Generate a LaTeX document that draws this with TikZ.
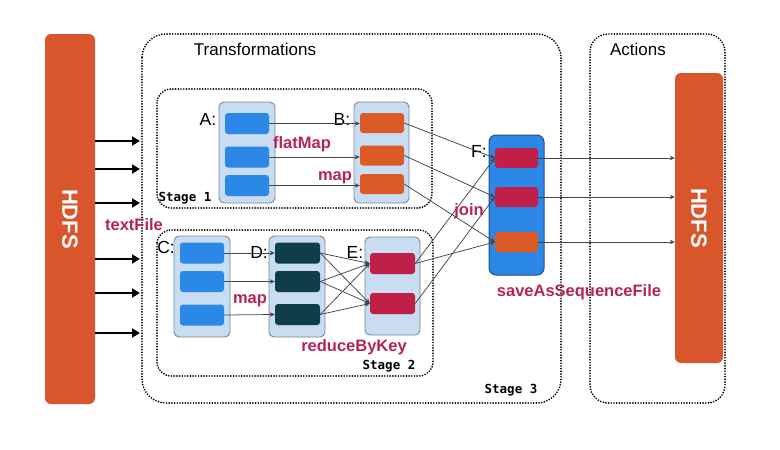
\documentclass[tikz,border=0pt]{standalone}
\usepackage{fontspec}
\setmainfont{Liberation Sans}
\newfontfamily\stagefont{DejaVu Sans Mono}
\usetikzlibrary{arrows.meta}
\definecolor{hdfscol}{HTML}{D9552C}
\definecolor{contfill}{HTML}{C8DCF2}
\definecolor{contdraw}{HTML}{7D8896}
\definecolor{blueitem}{HTML}{2C88E6}
\definecolor{orangeitem}{HTML}{DB5A25}
\definecolor{tealitem}{HTML}{0F3E48}
\definecolor{redditem}{HTML}{C01F48}
\definecolor{fdraw}{HTML}{24508A}
\definecolor{labcol}{HTML}{B5235A}
\definecolor{conncol}{HTML}{454545}
\begin{document}
\begin{tikzpicture}[x=1pt,y=-1pt,
  dotbox/.style={line width=1.9pt, dash pattern=on 0pt off 2.7pt, line cap=round, draw=black},
  hdfsbar/.style={fill=hdfscol, rounded corners=6pt, inner sep=0pt},
  hdfstext/.style={text=white, font=\fontsize{22}{24}\selectfont\bfseries, rotate=-90},
  container/.style={draw=contdraw, fill=contfill, line width=0.9pt, rounded corners=5pt, inner sep=0pt, minimum width=56pt, minimum height=101pt},
  item/.style={rounded corners=3pt, inner sep=0pt, minimum width=44pt, minimum height=21pt},
  conn/.style={draw=conncol, line width=0.75pt, -{Stealth[length=5pt,width=4.5pt]}},
  thick arrow/.style={line width=2.8pt, -{Triangle[length=8pt,width=9pt]}},
  lab/.style={text=labcol, font=\fontsize{16.5}{18}\selectfont\bfseries, anchor=base, inner sep=0pt},
  letter/.style={font=\fontsize{17.5}{19}\selectfont, inner sep=0pt},
  title/.style={font=\fontsize{17}{19}\selectfont, inner sep=0pt},
  stagelab/.style={font=\fontsize{12.5}{14}\selectfont\stagefont\bfseries, anchor=base, inner sep=0pt}
]
\useasboundingbox[fill=white] (0,0) rectangle (780,450);

% dotted boxes
\draw[dotbox, rounded corners=24pt] (142,34) rectangle (561,403);
\draw[dotbox, rounded corners=14pt] (157,89) rectangle (432,208);
\draw[dotbox, rounded corners=14pt] (157,230) rectangle (433,376);
\draw[dotbox, rounded corners=18pt] (590,34) rectangle (725,403);

\node[title] (ttrans) at (255,49.5) {Transformations};
\node[title] (tact) at (638,49.5) {Actions};

% HDFS bars
\node[hdfsbar, minimum width=50pt, minimum height=370pt] (hl) at (70,219) {};
\node[hdfstext] at (hl.center) {HDFS};
\node[hdfsbar, minimum width=48pt, minimum height=290pt] (hr) at (699,218) {};
\node[hdfstext] at (hr.center) {HDFS};

% input arrows
\foreach \i/\y in {1/141,2/169,3/203,4/259,5/293,6/333}{
  \coordinate (t\i) at (140,\y);
  \draw[thick arrow] (hl.east |- t\i) -- (t\i);
}

% letter labels
\node[letter] (la) at (208,119) {A:};
\node[letter] (lb) at (342,119) {B:};
\node[letter] (lc) at (166,247) {C:};
\node[letter] (ld) at (259,252) {D:};
\node[letter] (le) at (355,252) {E:};
\node[letter] (lf) at (479,151) {F:};

% containers
\node[container] (ca) at (247,152.5) {};
\node[container, minimum width=55pt] (cb) at (381.5,152.5) {};
\node[container] (cc) at (202,286.5) {};
\node[container] (cd) at (297,286.5) {};
\node[container, minimum width=55pt, minimum height=98pt] (ce) at (392.5,286) {};
\node[container, draw=fdraw, fill=blueitem, line width=1pt, rounded corners=7pt, minimum width=55pt, minimum height=140pt] (cf) at (516.5,205) {};

% items
\node[item, fill=blueitem] (a1) at (247,123.5) {};
\node[item, fill=blueitem] (a2) at (247,157) {};
\node[item, fill=blueitem] (a3) at (247,185.5) {};
\node[item, fill=orangeitem, minimum height=20pt] (b1) at (382,123) {};
\node[item, fill=orangeitem, minimum height=20pt] (b2) at (382,155.5) {};
\node[item, fill=orangeitem, minimum height=20pt] (b3) at (382,184) {};
\node[item, fill=blueitem] (c1) at (202,253) {};
\node[item, fill=blueitem] (c2) at (202,281.5) {};
\node[item, fill=blueitem] (c3) at (202,315) {};
\node[item, fill=tealitem, minimum width=45pt] (d1) at (297.5,253) {};
\node[item, fill=tealitem, minimum width=45pt] (d2) at (297.5,281.5) {};
\node[item, fill=tealitem, minimum width=45pt] (d3) at (297.5,314.5) {};
\node[item, fill=redditem, minimum width=45pt] (e1) at (392.5,263.5) {};
\node[item, fill=redditem, minimum width=45pt] (e2) at (392.5,303.5) {};
\node[item, fill=redditem, minimum width=43pt, minimum height=20pt] (f1) at (516.5,158) {};
\node[item, fill=redditem, minimum width=43pt, minimum height=20pt] (f2) at (516.5,197) {};
\node[item, fill=orangeitem, minimum width=43pt, minimum height=20pt] (f3) at (516.5,242) {};

% connectors
\draw[conn] (a1.east) -- (b1.west |- a1.east);
\draw[conn] (a2.east) -- (b2.west |- a2.east);
\draw[conn] (a3.east) -- (b3.west |- a3.east);
\draw[conn] (c1.east) -- (d1.west);
\draw[conn] (c2.east) -- (d2.west);
\draw[conn] (c3.east) -- (d3.west);
\foreach \d in {1,2,3}{
  \foreach \e in {1,2}{
    \draw[conn] (d\d.east) -- (e\e.west);
  }
}
\draw[conn] (b1.east) -- (f1.west);
\draw[conn] (b2.east) -- (f2.west);
\draw[conn] (b3.east) -- (f3.west);
\draw[conn] (e1.east) -- (f1.west);
\draw[conn] (e1.east) -- (f3.west);
\draw[conn] (e2.east) -- (f2.west);
\draw[conn] (f1.east) -- (f1.east -| hr.west);
\draw[conn] (f2.east) -- (f2.east -| hr.west);
\draw[conn] (f3.east) -- (f3.east -| hr.west);

% operation labels
\node[lab] (lflat) at (302,148) {flatMap};
\node[lab] (lmap1) at (335,180) {map};
\node[lab] (lmap2) at (250,303) {map};
\node[lab] (lred) at (354,351) {reduceByKey};
\node[lab] (ljoin) at (469,215) {join};
\node[lab] (lsave) at (579,296) {saveAsSequenceFile};
\node[lab] (ltext) at (134,230) {textFile};

% stage labels
\node[stagelab] (s1) at (185,201) {Stage 1};
\node[stagelab] (s2) at (389,369) {Stage 2};
\node[stagelab] (s3) at (511,393) {Stage 3};
\end{tikzpicture}
\end{document}
